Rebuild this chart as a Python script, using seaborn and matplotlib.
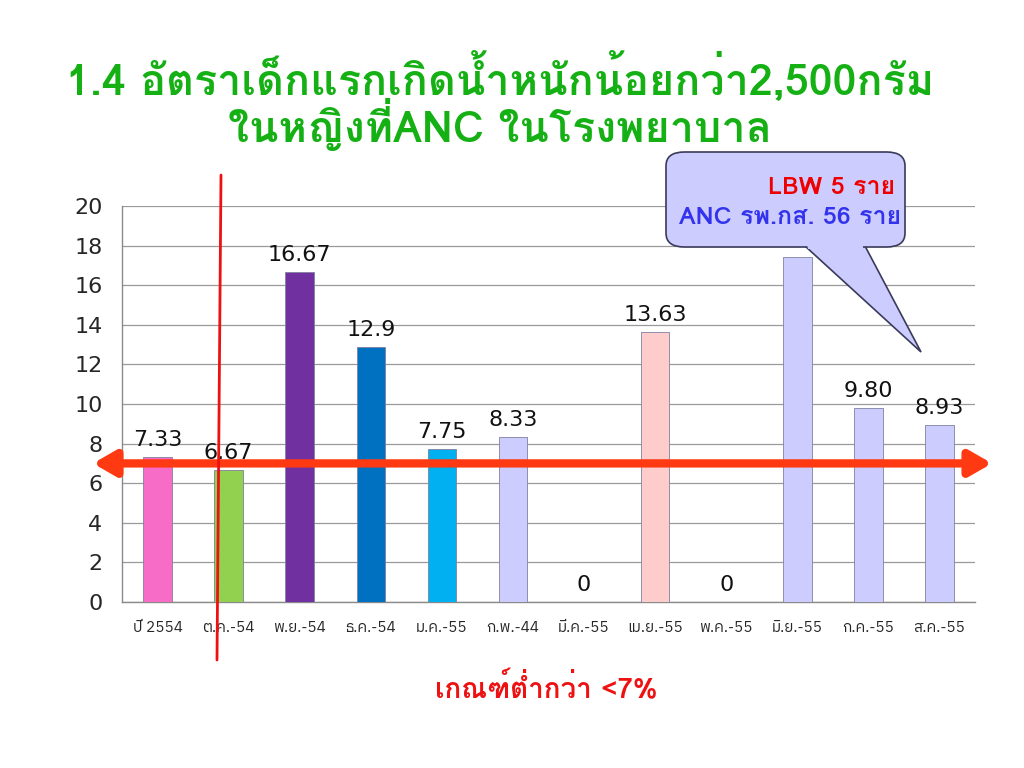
import matplotlib
matplotlib.use('Agg')
import matplotlib.pyplot as plt
import matplotlib.patches as mpatches
from matplotlib.lines import Line2D
import seaborn as sns
import numpy as np

# data
months = ['ปี 2554', 'ต.ค.-54', 'พ.ย.-54', 'ธ.ค.-54', 'ม.ค.-55', 'ก.พ.-44',
          'มี.ค.-55', 'เม.ย.-55', 'พ.ค.-55', 'มิ.ย.-55', 'ก.ค.-55', 'ส.ค.-55']
rates = [7.33, 6.67, 16.67, 12.9, 7.75, 8.33, 0, 13.63, 0, 17.4, 9.80, 8.93]
rate_labels = ['7.33', '6.67', '16.67', '12.9', '7.75', '8.33', '0', '13.63', '0', '', '9.80', '8.93']
bar_colors = ['#F66CC6', '#92D050', '#7030A0', '#0070C0', '#00B0F0', '#CCCCFF',
              '#CCCCFF', '#FFCCCC', '#CCCCFF', '#CCCCFF', '#CCCCFF', '#CCCCFF']
target = 7
yticks = list(range(0, 21, 2))

sns.set_style('white')
thai_bold = ['Loma', 'DejaVu Sans']
thai_tick = ['IBM Plex Sans Thai', 'Loma', 'DejaVu Sans']
num_font = ['DejaVu Sans']
plt.rcParams['font.family'] = thai_bold

fig = plt.figure(figsize=(10.24, 7.68), dpi=100)
ax = fig.add_axes([122/1024, 1 - 602/768, (975-122)/1024, (602-206)/768])

sns.barplot(x=months, y=rates, hue=months, palette=bar_colors, legend=False,
            saturation=1, width=0.4, edgecolor='#8080a0', linewidth=0.6, ax=ax, zorder=3)

for cont, lab in zip(ax.containers, rate_labels):
    ax.bar_label(cont, labels=[lab], padding=5, fontsize=16, family=num_font, color='#111111')

ax.set_ylim(0, 20)
ax.set_xlim(-0.5, len(months) - 0.5)
ax.set_yticks(yticks)
ax.yaxis.grid(True, color='#9a9a9a', linewidth=0.9, zorder=0)
ax.set_axisbelow(True)
for s in ['top', 'right']:
    ax.spines[s].set_visible(False)
for s in ['left', 'bottom']:
    ax.spines[s].set_color('#8a8a8a')
    ax.spines[s].set_linewidth(1.0)

ax.tick_params(axis='y', direction='out', length=6, color='#8a8a8a', labelsize=16, pad=8)
for t in ax.get_yticklabels():
    t.set_family(num_font)
ax.set_xticks(np.arange(len(months)))
ax.set_xticklabels(months, family=thai_tick, fontsize=11)
ax.tick_params(axis='x', length=0, pad=14)
ax.set_xticks(np.arange(-0.5, len(months), 1), minor=True)
ax.tick_params(axis='x', which='minor', direction='out', length=7, color='#8a8a8a')
ax.set_xlabel('')
ax.set_ylabel('')

# target double arrow at 7%
ax.annotate('', xy=(992/1024, target), xytext=(93/1024, target),
            xycoords=('figure fraction', 'data'), textcoords=('figure fraction', 'data'),
            arrowprops=dict(arrowstyle='<|-|>,head_length=1.3,head_width=0.75',
                            color='#FF3A12', lw=6, shrinkA=0, shrinkB=0),
            zorder=5, annotation_clip=False)

# red vertical marker line
fig.add_artist(Line2D([221/1024, 217/1024], [1 - 175/768, 1 - 660/768],
                      color='#EE1111', lw=2, transform=fig.transFigure, zorder=10))

# titles
fig.text(500/1024, 1 - 94/768, '1.4 อัตราเด็กแรกเกิดน้ำหนักน้อยกว่า2,500กรัม',
         ha='center', va='baseline', fontsize=31, fontweight='bold', color='#14B014', family=thai_bold)
fig.text(500/1024, 1 - 142/768, 'ในหญิงที่ANC ในโรงพยาบาล',
         ha='center', va='baseline', fontsize=31, fontweight='bold', color='#14B014', family=thai_bold)

fig.text(546/1024, 1 - 688/768, 'เกณฑ์ต่ำกว่า <7%', ha='center', va='center',
         fontsize=20, fontweight='bold', color='#EE1111', family=thai_bold)

# callout bubble
box_fc = '#CCCCFF'
box_ec = '#3a3a5a'
tail = [(805/1024, 1 - 246/768), (921/1024, 1 - 352/768), (865/1024, 1 - 246/768)]
fig.add_artist(mpatches.Polygon(tail, closed=True, fc=box_fc, ec=box_ec, lw=1.2,
                                transform=fig.transFigure, zorder=11))
fig.add_artist(mpatches.FancyBboxPatch((666/1024, 1 - 247/768), 239/1024, 95/768,
                                       boxstyle='round,pad=0,rounding_size=0.018',
                                       fc=box_fc, ec=box_ec, lw=1.2,
                                       transform=fig.transFigure, zorder=12))
cover = [(807/1024, 1 - 244/768), (808/1024, 1 - 249/768), (863/1024, 1 - 249/768), (863/1024, 1 - 244/768)]
fig.add_artist(mpatches.Polygon(cover, closed=True, fc=box_fc, ec='none',
                                transform=fig.transFigure, zorder=13))
fig.text(895/1024, 1 - 187/768, 'LBW 5 ราย', ha='right', va='center', fontsize=18,
         fontweight='bold', color='#EE0000', family=thai_bold, zorder=14)
fig.text(901/1024, 1 - 218/768, 'ANC รพ.กส. 56 ราย', ha='right', va='center', fontsize=18,
         fontweight='bold', color='#3333EE', family=thai_bold, zorder=14)

fig.savefig('out.png', dpi=100)
